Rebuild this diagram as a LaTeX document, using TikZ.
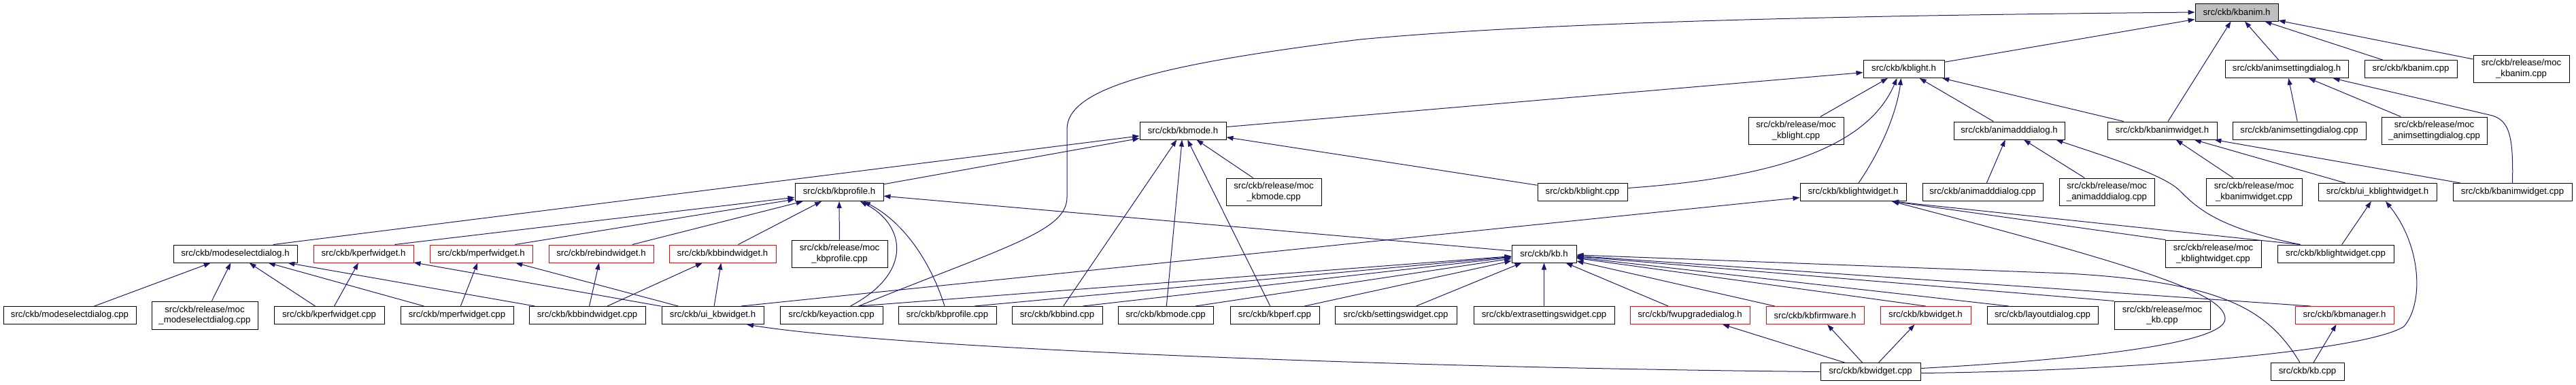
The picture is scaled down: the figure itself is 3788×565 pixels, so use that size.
\documentclass[tikz,border=0pt]{standalone}
\usepackage{fontspec}
\setmainfont{Liberation Sans}
\usetikzlibrary{arrows.meta}
\definecolor{linkblue}{HTML}{191970}
\definecolor{boxgray}{HTML}{BFBFBF}

\begin{document}
\begin{tikzpicture}[x = 1pt, y = -1pt, >={Triangle[length=10pt, width=7pt]},
    file/.style = {draw = black, line width = 1pt, fill = white, inner sep = 0pt, minimum height = 26pt, align = center, font = \fontsize{13.2}{15.6}\selectfont},
    nodoc/.style = {file, draw = red},
    twoline/.style = {minimum height = 40pt},
    link/.style = {->, linkblue, line width = 1pt}]
    \useasboundingbox (0, 0) rectangle (3788, 565);

    \node[file, fill = boxgray, minimum width = 122] (kbAnimH) at (3289, 18) {src/ckb/kbanim.h};

    \node[file, minimum width = 119] (kbLightH) at (2799.5, 101.5) {src/ckb/kblight.h};
    \node[file, minimum width = 181] (animSettingDialogH) at (3362.5, 101.5) {src/ckb/animsettingdialog.h};
    \node[file, minimum width = 136] (kbAnimCpp) at (3545, 101.5) {src/ckb/kbanim.cpp};
    \node[file, twoline, minimum width = 141] (mocKbAnim) at (3707.5, 101) {src/ckb/release/moc\\\_kbanim.cpp};

    \node[file, minimum width = 127] (kbModeH) at (1739.5, 192) {src/ckb/kbmode.h};
    \node[file, twoline, minimum width = 140] (mocKbLight) at (2641, 192) {src/ckb/release/moc\\\_kblight.cpp};
    \node[file, minimum width = 163] (animAddDialogH) at (2954.5, 192) {src/ckb/animadddialog.h};
    \node[file, minimum width = 161] (kbAnimWidgetH) at (3179.5, 192) {src/ckb/kbanimwidget.h};
    \node[file, minimum width = 196] (animSettingDialogCpp) at (3381, 192) {src/ckb/animsettingdialog.cpp};
    \node[file, twoline, minimum width = 155] (mocAnimSettingDialog) at (3579.5, 192) {src/ckb/release/moc\\\_animsettingdialog.cpp};

    \node[file, minimum width = 130] (kbProfileH) at (1234, 282.5) {src/ckb/kbprofile.h};
    \node[file, twoline, minimum width = 140] (mocKbMode) at (1873, 282) {src/ckb/release/moc\\\_kbmode.cpp};
    \node[file, minimum width = 132] (kbLightCpp) at (2327, 282.5) {src/ckb/kblight.cpp};
    \node[file, minimum width = 156] (kbLightWidgetH) at (2725, 282.5) {src/ckb/kblightwidget.h};
    \node[file, minimum width = 177] (animAddDialogCpp) at (2915.5, 282.5) {src/ckb/animadddialog.cpp};
    \node[file, twoline, minimum width = 140] (mocAnimAddDialog) at (3098, 282) {src/ckb/release/moc\\\_animadddialog.cpp};
    \node[file, twoline, minimum width = 141] (mocKbAnimWidget) at (3314.5, 282) {src/ckb/release/moc\\\_kbanimwidget.cpp};
    \node[file, minimum width = 174] (uiKbLightWidgetH) at (3496, 282.5) {src/ckb/ui\_kblightwidget.h};
    \node[file, minimum width = 175] (kbAnimWidgetCpp) at (3694.5, 282.5) {src/ckb/kbanimwidget.cpp};

    \node[file, minimum width = 182] (modeSelectDialogH) at (346, 373) {src/ckb/modeselectdialog.h};
    \node[nodoc, minimum width = 147] (kPerfWidgetH) at (534.5, 373) {src/ckb/kperfwidget.h};
    \node[nodoc, minimum width = 151] (mPerfWidgetH) at (707.5, 373) {src/ckb/mperfwidget.h};
    \node[nodoc, minimum width = 154] (rebindWidgetH) at (884, 373) {src/ckb/rebindwidget.h};
    \node[nodoc, minimum width = 157] (kbBindWidgetH) at (1062.5, 373) {src/ckb/kbbindwidget.h};
    \node[file, twoline, minimum width = 141] (mocKbProfile) at (1234.5, 373) {src/ckb/release/moc\\\_kbprofile.cpp};
    \node[file, minimum width = 95] (kbH) at (2270.5, 373) {src/ckb/kb.h};
    \node[file, twoline, minimum width = 141] (mocKbLightWidget) at (3254.5, 373) {src/ckb/release/moc\\\_kblightwidget.cpp};
    \node[file, minimum width = 171] (kbLightWidgetCpp) at (3434.5, 373) {src/ckb/kblightwidget.cpp};

    \node[file, minimum width = 195] (modeSelectDialogCpp) at (102.5, 463.5) {src/ckb/modeselectdialog.cpp};
    \node[file, minimum width = 156, minimum height = 41] (mocModeSelectDialog) at (301, 463.5) {src/ckb/release/moc\\\_modeselectdialog.cpp};
    \node[file, minimum width = 162] (kPerfWidgetCpp) at (484, 463.5) {src/ckb/kperfwidget.cpp};
    \node[file, minimum width = 166] (mPerfWidgetCpp) at (672, 463.5) {src/ckb/mperfwidget.cpp};
    \node[file, minimum width = 171] (kbBindWidgetCpp) at (863.5, 463.5) {src/ckb/kbbindwidget.cpp};
    \node[file, minimum width = 150] (uiKbWidgetH) at (1048, 463.5) {src/ckb/ui\_kbwidget.h};
    \node[file, minimum width = 151] (keyActionCpp) at (1222.5, 463.5) {src/ckb/keyaction.cpp};
    \node[file, minimum width = 144] (kbProfileCpp) at (1393, 463.5) {src/ckb/kbprofile.cpp};
    \node[file, minimum width = 133] (kbBindCpp) at (1554.5, 463.5) {src/ckb/kbbind.cpp};
    \node[file, minimum width = 140] (kbModeCpp) at (1714, 463.5) {src/ckb/kbmode.cpp};
    \node[file, minimum width = 131] (kbPerfCpp) at (1874.5, 463.5) {src/ckb/kbperf.cpp};
    \node[file, minimum width = 179] (settingsWidgetCpp) at (2052.5, 463.5) {src/ckb/settingswidget.cpp};
    \node[file, minimum width = 207] (extraSettingsWidgetCpp) at (2270.5, 463.5) {src/ckb/extrasettingswidget.cpp};
    \node[nodoc, minimum width = 176] (fwUpgradeDialogH) at (2485, 463.5) {src/ckb/fwupgradedialog.h};
    \node[nodoc, minimum width = 144] (kbFirmwareH) at (2669, 463.5) {src/ckb/kbfirmware.h};
    \node[nodoc, minimum width = 133] (kbWidgetH) at (2831.5, 463.5) {src/ckb/kbwidget.h};
    \node[file, minimum width = 163] (layoutDialogCpp) at (3003.5, 463.5) {src/ckb/layoutdialog.cpp};
    \node[file, minimum width = 141, minimum height = 41] (mocKb) at (3179.5, 463.5) {src/ckb/release/moc\\\_kb.cpp};
    \node[nodoc, minimum width = 145] (kbManagerH) at (3447.5, 463.5) {src/ckb/kbmanager.h};

    \node[file, minimum width = 147] (kbWidgetCpp) at (2750.5, 546.5) {src/ckb/kbwidget.cpp};
    \node[file, minimum width = 108] (kbCpp) at (3393, 546.5) {src/ckb/kb.cpp};

    \draw[link] (kbLightH) -- (kbAnimH);
    \draw[link] (kbAnimWidgetH) -- (kbAnimH);
    \draw[link] (animSettingDialogH) -- (kbAnimH);
    \draw[link] (kbAnimCpp) -- (kbAnimH);
    \draw[link] (mocKbAnim) -- (kbAnimH);
    \draw[link] ([xshift = 40pt]keyActionCpp.north) .. controls (1480, 362) and (1569, 340) .. (1569, 290) -- (1569, 190)
        .. controls (1569, 130) and (1700, 95) .. (2000, 58) .. controls (2300, 30) and (2800, 22) .. (kbAnimH.west);

    \draw[link] (kbModeH) -- (kbLightH);
    \draw[link] (mocKbLight) -- (kbLightH);
    \draw[link] ([yshift = 6pt]kbLightCpp.east) .. controls (2600, 262) and (2745, 220) .. ([xshift = -10pt]kbLightH.south);
    \draw[link] ([xshift = 8pt]kbLightWidgetH.north) .. controls (2770, 215) and (2790, 160) .. ([xshift = -4pt]kbLightH.south);
    \draw[link] (animAddDialogH) -- (kbLightH);
    \draw[link] (kbAnimWidgetH) -- (kbLightH);

    \draw[link] (animSettingDialogCpp) -- (animSettingDialogH);
    \draw[link] (mocAnimSettingDialog) -- (animSettingDialogH);
    \draw[link] (kbAnimWidgetCpp.north) .. controls (3696, 200) and (3690, 178) .. (3665, 170) -- ([xshift = -23pt]animSettingDialogH.south east);

    \draw[link] ([xshift = 56pt]modeSelectDialogH.north) -- (kbModeH);
    \draw[link] (kbProfileH) -- (kbModeH);
    \draw[link] (kbBindCpp) -- (kbModeH);
    \draw[link] (kbModeCpp) -- (kbModeH);
    \draw[link] (kbPerfCpp) -- (kbModeH);
    \draw[link] (mocKbMode) -- (kbModeH);
    \draw[link] (kbLightCpp) -- (kbModeH);

    \draw[link] (animAddDialogCpp) -- (animAddDialogH);
    \draw[link] (mocAnimAddDialog) -- (animAddDialogH);
    \draw[link] ([xshift = 34pt]kbLightWidgetCpp.north west) .. controls (3260, 335) and (3230, 305) .. (3205, 280)
        .. controls (3180, 255) and (3080, 225) .. ([xshift = -13pt]animAddDialogH.south east);

    \draw[link] (mocKbAnimWidget) -- (kbAnimWidgetH);
    \draw[link] (kbAnimWidgetCpp) -- (kbAnimWidgetH);
    \draw[link] (uiKbLightWidgetH) -- (kbAnimWidgetH);

    \draw[link] ([xshift = 46pt]kPerfWidgetH.north) -- (kbProfileH);
    \draw[link] ([xshift = 50pt]mPerfWidgetH.north) -- (kbProfileH);
    \draw[link] ([xshift = 46pt]rebindWidgetH.north) -- (kbProfileH);
    \draw[link] ([xshift = 23pt]kbBindWidgetH.north) -- (kbProfileH);
    \draw[link] (mocKbProfile) -- (kbProfileH);
    \draw[link] ([xshift = 28pt]keyActionCpp.north) .. controls (1345, 400) and (1330, 330) .. ([xshift = 31pt]kbProfileH.south);
    \draw[link] ([xshift = -4pt]kbProfileCpp.north) .. controls (1372, 395) and (1335, 330) .. ([xshift = 36pt]kbProfileH.south);
    \draw[link] (kbH) -- (kbProfileH);

    \draw[link] ([xshift = 42pt]uiKbWidgetH.north) -- (kbLightWidgetH);
    \draw[link] ([xshift = 34pt]kbLightWidgetCpp.north west) -- ([xshift = 57pt]kbLightWidgetH.south);
    \draw[link] ([xshift = -70pt]mocKbLightWidget.north) -- ([xshift = 57pt]kbLightWidgetH.south);
    \draw[link] ([yshift = 5pt]kbWidgetCpp.east) .. controls (3000, 532) and (3275, 510) .. (3272, 468)
        .. controls (3270, 430) and (3140, 390) .. ([xshift = 57pt]kbLightWidgetH.south);

    \draw[link] (kbLightWidgetCpp) -- (uiKbLightWidgetH);
    \draw[link] ([yshift = -2pt]kbWidgetCpp.east) .. controls (3150, 545) and (3480, 515) .. (3535, 480)
        .. controls (3565, 445) and (3560, 360) .. ([xshift = 12pt]uiKbLightWidgetH.south);

    \draw[link] (modeSelectDialogCpp) -- (modeSelectDialogH);
    \draw[link] (mocModeSelectDialog) -- (modeSelectDialogH);
    \draw[link] (kPerfWidgetCpp) -- (modeSelectDialogH);
    \draw[link] (mPerfWidgetCpp) -- (modeSelectDialogH);
    \draw[link] (kbBindWidgetCpp) -- (modeSelectDialogH);

    \draw[link] (kPerfWidgetCpp) -- (kPerfWidgetH);
    \draw[link] (uiKbWidgetH) -- (kPerfWidgetH);
    \draw[link] (mPerfWidgetCpp) -- (mPerfWidgetH);
    \draw[link] (uiKbWidgetH) -- (mPerfWidgetH);
    \draw[link] (kbBindWidgetCpp) -- (rebindWidgetH);
    \draw[link] (kbBindWidgetCpp) -- (kbBindWidgetH);
    \draw[link] (uiKbWidgetH) -- (kbBindWidgetH);

    \draw[link] ([xshift = 40pt]keyActionCpp.north) -- (kbH);
    \draw[link] ([xshift = 40pt]kbProfileCpp.north) -- (kbH);
    \draw[link] ([xshift = 38pt]kbBindCpp.north) -- (kbH);
    \draw[link] ([xshift = 44pt]kbModeCpp.north) -- (kbH);
    \draw[link] ([xshift = 44pt]kbPerfCpp.north) -- (kbH);
    \draw[link] ([xshift = 30pt]settingsWidgetCpp.north) -- (kbH);
    \draw[link] (extraSettingsWidgetCpp) -- (kbH);
    \draw[link] (fwUpgradeDialogH) -- (kbH);
    \draw[link] (kbFirmwareH) -- (kbH);
    \draw[link] (kbWidgetH.north) -- (kbH);
    \draw[link] ([xshift = -50pt]layoutDialogCpp.north) -- (kbH);
    \draw[link] (mocKb.north west) -- (kbH);
    \draw[link] ([xshift = -50pt]kbManagerH.north) -- (kbH);
    \draw[link] ([xshift = -11pt]kbCpp.north) .. controls (3335, 455) and (3270, 415) .. (3040, 402) -- (kbH);

    \draw[link] (kbWidgetCpp.west) .. controls (2000, 540) and (1300, 510) .. ([xshift = 50pt]uiKbWidgetH.south);
    \draw[link] ([xshift = -38pt]kbWidgetCpp.north) -- ([xshift = 48pt]fwUpgradeDialogH.south);
    \draw[link] ([xshift = -12pt]kbWidgetCpp.north) -- ([xshift = 18pt]kbFirmwareH.south);
    \draw[link] ([xshift = 12pt]kbWidgetCpp.north) -- ([xshift = -16pt]kbWidgetH.south);
    \draw[link] ([xshift = 9pt]kbCpp.north) -- ([xshift = -12pt]kbManagerH.south);

\end{tikzpicture}
\end{document}
